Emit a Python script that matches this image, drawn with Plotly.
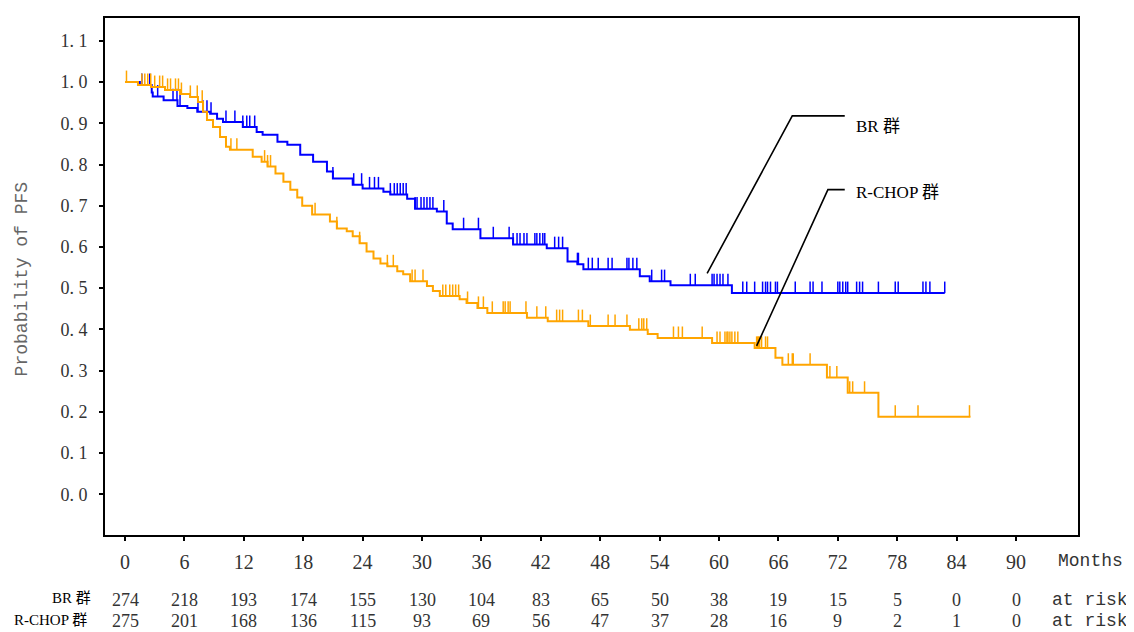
import numpy as np
import plotly.graph_objects as go

# ---------------- data (months, survival probability) ----------------
br_times = [0, 1.5, 2.7, 2.8, 3.9, 5.3, 6.3, 7.3, 8.6, 9.3, 9.9, 11.9, 13.3, 13.9, 15.4, 16.4,
            17.7, 19.0, 20.4, 21.0, 23.0, 24.0, 26.1, 26.8, 28.5, 29.3, 31.5, 32.5, 33.1, 35.9,
            39.2, 42.6, 44.7, 45.7, 46.3, 52.0, 53.0, 55.1, 61.3]
br_surv = [1.0, 0.993, 0.975, 0.965, 0.956, 0.942, 0.937, 0.928, 0.923, 0.911, 0.903, 0.891, 0.879,
           0.872, 0.855, 0.848, 0.824, 0.807, 0.783, 0.766, 0.751, 0.742, 0.734, 0.727, 0.717,
           0.693, 0.686, 0.657, 0.643, 0.621, 0.606, 0.597, 0.565, 0.558, 0.546, 0.529, 0.517,
           0.507, 0.488]
br_last = 82.8
br_censored = [1.7, 2.5, 3.3, 4.85, 5.25, 5.56, 7.37, 7.88, 8.28, 8.69, 10.2, 11.1, 11.9, 12.3, 12.6,
               13.1, 21.0, 23.1, 23.9, 24.7, 25.2, 25.6, 26.8, 27.2, 27.5, 27.8, 28.1, 28.4, 29.3,
               29.5, 29.9, 30.2, 30.5, 30.8, 31.1, 32.2, 34.2, 35.7, 37.2, 38.8, 39.2, 39.6, 39.9,
               40.3, 40.6, 41.4, 41.6, 41.9, 42.2, 42.4, 43.4, 43.8, 44.2, 45.7, 45.8, 46.8, 47.2,
               47.8, 48.8, 49.2, 50.7, 50.9, 51.3, 51.7, 53.2, 54.2, 54.5, 57.1, 57.6, 59.3, 59.5,
               59.8, 60.1, 60.4, 60.9, 62.4, 62.8, 63.6, 64.4, 64.7, 64.9, 65.2, 65.7, 65.9, 67.7,
               69.2, 69.5, 70.4, 72.0, 72.2, 72.5, 72.8, 73.0, 73.9, 74.2, 74.5, 76.1, 77.8, 78.1,
               80.6, 80.9, 81.3, 82.8]

rchop_times = [0, 1.31, 2.63, 4.04, 5.56, 6.57, 7.37, 7.88, 8.28, 8.89, 9.6, 10.2, 10.6, 12.9, 13.8,
               14.4, 15.2, 16.0, 16.7, 17.4, 17.9, 18.9, 20.7, 21.4, 22.4, 23.0, 23.7, 24.4, 25.1,
               25.8, 26.5, 27.5, 28.1, 28.8, 30.5, 31.1, 31.8, 33.8, 34.5, 35.6, 36.6, 40.6, 42.7,
               46.8, 51.0, 52.8, 53.8, 59.3, 63.6, 65.7, 66.4, 70.9, 73.0, 76.1]
rchop_surv = [1.0, 0.993, 0.988, 0.981, 0.971, 0.964, 0.952, 0.928, 0.908, 0.891, 0.867, 0.843,
              0.836, 0.819, 0.807, 0.795, 0.778, 0.758, 0.739, 0.72, 0.7, 0.679, 0.662, 0.645,
              0.638, 0.626, 0.609, 0.589, 0.572, 0.56, 0.553, 0.541, 0.534, 0.517, 0.505, 0.493,
              0.481, 0.473, 0.464, 0.452, 0.44, 0.428, 0.42, 0.408, 0.399, 0.389, 0.379, 0.367,
              0.355, 0.331, 0.314, 0.283, 0.246, 0.188]
rchop_last = 85.4
rchop_censored = [0.15, 1.7, 2.0, 2.3, 2.6, 3.0, 3.5, 3.8, 4.3, 4.6, 5.1, 5.4, 5.7, 6.6, 7.3, 7.8,
                  10.7, 11.3, 14.1, 14.4, 14.7, 19.2, 21.4, 23.7, 26.5, 27.1, 29.0, 29.3, 30.1,
                  32.1, 32.4, 32.8, 33.1, 33.4, 33.7, 34.6, 35.7, 36.2, 37.1, 38.2, 38.4, 38.7,
                  38.9, 40.5, 41.6, 42.5, 43.6, 43.9, 44.2, 45.8, 46.2, 47.0, 48.8, 49.5, 50.7,
                  51.9, 52.2, 52.4, 52.7, 55.4, 55.9, 56.3, 58.3, 59.8, 60.1, 60.6, 60.8, 60.9,
                  61.1, 61.3, 61.6, 61.9, 63.8, 63.9, 64.0, 64.1, 64.3, 64.7, 64.9, 67.0, 67.4,
                  67.5, 69.2, 71.2, 71.9, 73.2, 73.5, 74.7, 77.8, 80.1, 85.3]

month_ticks = [0, 6, 12, 18, 24, 30, 36, 42, 48, 54, 60, 66, 72, 78, 84, 90]
risk_br = [274, 218, 193, 174, 155, 130, 104, 83, 65, 50, 38, 19, 15, 5, 0, 0]
risk_rchop = [275, 201, 168, 136, 115, 93, 69, 56, 47, 37, 28, 16, 9, 2, 1, 0]
y_ticks = [0.0, 0.1, 0.2, 0.3, 0.4, 0.5, 0.6, 0.7, 0.8, 0.9, 1.0, 1.1]
y_ticktext = ["0. 0", "0. 1", "0. 2", "0. 3", "0. 4", "0. 5", "0. 6", "0. 7", "0. 8", "0. 9",
              "1. 0", "1. 1"]

BLUE = "#0000FF"
ORANGE = "#FFA500"
TICK_H = 0.028


def step_xy(times, surv, last):
    return list(times) + [last], list(surv) + [surv[-1]]


def censor_xy(cens, times, surv):
    t_arr = np.array(times)
    xs, ys = [], []
    for c in cens:
        i = int(np.searchsorted(t_arr, c, side="right")) - 1
        s = surv[max(i, 0)]
        xs += [c, c, None]
        ys += [s, s + TICK_H, None]
    return xs, ys


fig = go.Figure()
for times, surv, last, cens, col in [
    (br_times, br_surv, br_last, br_censored, BLUE),
    (rchop_times, rchop_surv, rchop_last, rchop_censored, ORANGE),
]:
    x, y = step_xy(times, surv, last)
    fig.add_trace(go.Scatter(x=x, y=y, mode="lines", line=dict(color=col, width=2, shape="hv"),
                             hoverinfo="skip", showlegend=False))
    cx, cy = censor_xy(cens, times, surv)
    fig.add_trace(go.Scatter(x=cx, y=cy, mode="lines", line=dict(color=col, width=1.5),
                             hoverinfo="skip", showlegend=False))

# leader lines to group labels
fig.add_shape(type="path", xref="x", yref="y", path="M 58.8,0.536 L 67.4,0.918 L 72.7,0.918",
              line=dict(color="black", width=1.6))
fig.add_shape(type="path", xref="x", yref="y", path="M 63.8,0.360 L 71.0,0.739 L 72.7,0.739",
              line=dict(color="black", width=1.6))

serif_cjk = "Liberation Serif, Times New Roman, Noto Sans CJK SC"
fig.add_annotation(x=73.6, y=0.893, xref="x", yref="y", text="BR 群", showarrow=False,
                   xanchor="left", yanchor="middle", font=dict(family=serif_cjk, size=17, color="black"))
fig.add_annotation(x=73.6, y=0.731, xref="x", yref="y", text="R-CHOP 群", showarrow=False,
                   xanchor="left", yanchor="middle", font=dict(family=serif_cjk, size=17, color="black"))

# at-risk table
num_font = dict(family="Liberation Serif", size=18, color="#333333")
row1_y, row2_y = -0.1262, -0.1667
for m, a, b in zip(month_ticks, risk_br, risk_rchop):
    fig.add_annotation(x=m, y=row1_y, xref="x", yref="paper", text=str(a), showarrow=False,
                       xanchor="center", yanchor="middle", font=num_font, borderpad=0)
    fig.add_annotation(x=m, y=row2_y, xref="x", yref="paper", text=str(b), showarrow=False,
                       xanchor="center", yanchor="middle", font=num_font, borderpad=0)

mono = dict(family="Liberation Mono", size=18, color="#333333")
fig.add_annotation(x=1.013, y=-0.050, xref="paper", yref="paper", text="Months", showarrow=False,
                   xanchor="center", yanchor="middle", font=mono)
for yy in (row1_y, row2_y):
    fig.add_annotation(x=1.012, y=yy, xref="paper", yref="paper", text="at risk", showarrow=False,
                       xanchor="center", yanchor="middle", font=mono, borderpad=0)

lab_font = dict(family=serif_cjk, size=15, color="black")
fig.add_annotation(x=-0.0135, y=-0.121, xref="paper", yref="paper", text="BR 群", showarrow=False,
                   xanchor="right", yanchor="middle", font=lab_font, borderpad=0)
fig.add_annotation(x=-0.0175, y=-0.164, xref="paper", yref="paper", text="R-CHOP 群", showarrow=False,
                   xanchor="right", yanchor="middle", font=lab_font, borderpad=0)

fig.add_annotation(x=-0.085, y=0.495, xref="paper", yref="paper", text="Probability of PFS",
                   textangle=-90, showarrow=False, xanchor="center", yanchor="middle",
                   font=dict(family="Liberation Mono", size=18, color="#666666"))

fig.update_xaxes(range=[-2.02, 96.26], tickvals=month_ticks, ticks="outside", ticklen=4,
                 tickwidth=2, tickcolor="black", showline=True, linecolor="black", linewidth=2,
                 mirror=True, showgrid=False, zeroline=False,
                 tickfont=dict(family="Liberation Serif", size=20, color="#333333"),
                 ticklabelstandoff=4)
fig.update_yaxes(range=[-0.099, 1.1556], tickvals=y_ticks, ticktext=y_ticktext, ticks="outside",
                 ticklen=4, tickwidth=2, tickcolor="black", showline=True, linecolor="black",
                 linewidth=2, mirror=True, showgrid=False, zeroline=False,
                 tickfont=dict(family="Liberation Serif", size=18, color="#333333"),
                 ticklabelstandoff=8)

# page body adds an 8px offset, so the figure is sized 8px smaller on each axis
fig.update_layout(width=1126, height=624, margin=dict(l=97, r=56, t=8, b=97),
                  plot_bgcolor="white", paper_bgcolor="white", showlegend=False)

fig.write_html("out.html")
